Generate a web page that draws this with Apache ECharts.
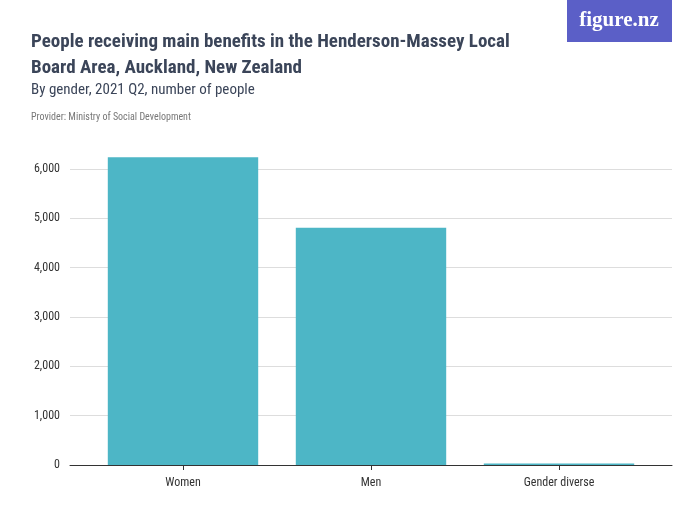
<!DOCTYPE html>
<html><head><meta charset="utf-8">
<script src="https://cdn.jsdelivr.net/npm/echarts@6/dist/echarts.min.js"></script>
<style>body{margin:0}#c{width:700px;height:525px}</style></head>
<body><div id="c"></div>
<script>
const categories = ["Women", "Men", "Gender diverse"];
const values = [6240, 4810, 30];
const yTicks = [0, 1000, 2000, 3000, 4000, 5000, 6000];
const F = "Roboto Condensed, Liberation Sans Narrow, Roboto, sans-serif";
const chart = echarts.init(document.getElementById('c'));
const yBase = {type:'value', min:yTicks[0], max:yTicks[yTicks.length-1], interval:1000};
chart.setOption({
  animation:false,
  title:[
    {text:'People receiving main benefits in the Henderson-Massey Local\nBoard Area, Auckland, New Zealand', left:26, top:24,
     textStyle:{fontFamily:F, fontSize:19, fontWeight:'bold', color:'#3b4559', lineHeight:26}},
    {text:'By gender, 2021 Q2, number of people', left:26, top:78, textStyle:{fontFamily:F, fontSize:15, fontWeight:'normal', color:'#3b4559'}},
    {text:'Provider: Ministry of Social Development', left:26, top:107, textStyle:{fontFamily:F, fontSize:10, fontWeight:'normal', color:'#777'}}
  ],
  graphic:[{type:'group', left:567, top:0, children:[
    {type:'rect', shape:{x:0,y:0,width:105,height:42}, style:{fill:'#5b5fc7'}},
    {type:'text', style:{x:52,y:21, text:'figure.nz', textAlign:'center', textVerticalAlign:'middle', fill:'#fff', font:'bold 21px serif'}}
  ]}],
  grid:[{left:70, right:28, top:169, bottom:60},{left:89, right:47, top:169, bottom:60}],
  xAxis:[
    {gridIndex:0, type:'category', data:categories, show:true, axisLabel:{show:false}, axisTick:{show:false}, axisLine:{lineStyle:{color:'#333'}}},
    {gridIndex:1, type:'category', data:categories, axisLine:{show:false},
     axisTick:{show:true, alignWithLabel:true, length:5, lineStyle:{color:'#333'}},
     axisLabel:{fontFamily:F, fontSize:12, color:'#333', margin:12}}
  ],
  yAxis:[
    Object.assign({gridIndex:0, axisLine:{show:false}, axisTick:{show:false},
      splitLine:{lineStyle:{color:'#ddd'}},
      axisLabel:{fontFamily:F, fontSize:12, color:'#333', margin:10, formatter:v=>v.toLocaleString('en-US')}}, yBase),
    Object.assign({gridIndex:1, show:false, splitLine:{show:false}}, yBase)
  ],
  series:[{type:'bar', xAxisIndex:1, yAxisIndex:1, data:values, clip:false, barCategoryGap:'20%',
    itemStyle:{color:'#4db6c6'}}]
});
</script></body></html>
